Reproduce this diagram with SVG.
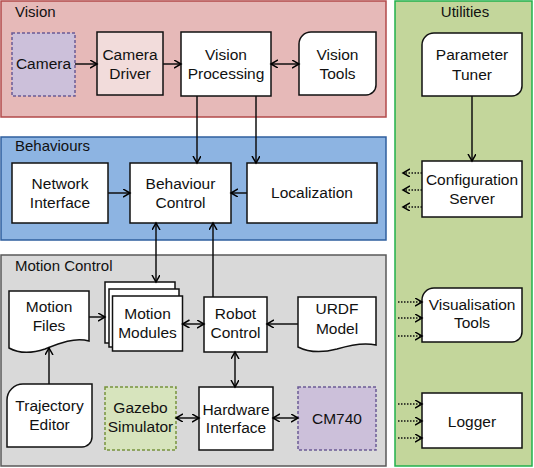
<svg xmlns="http://www.w3.org/2000/svg" width="534" height="468" viewBox="0 0 534 468">
<defs>
<marker id="ah" markerUnits="userSpaceOnUse" markerWidth="10" markerHeight="10" refX="7" refY="4" orient="auto-start-reverse" viewBox="0 0 10 10">
<path d="M0,0 L7,4 L0,8" fill="none" stroke="#000" stroke-width="1.5"/>
</marker>
<style>
text{font-family:"Liberation Sans",Arial,sans-serif;font-size:15.5px;fill:#111;text-anchor:middle}
.title{text-anchor:start;font-size:15px}
.box{fill:#fff;stroke:#111;stroke-width:1.5}
.c{fill:none;stroke:#111;stroke-width:1.5}
.a{marker-end:url(#ah)}
.b{marker-start:url(#ah);marker-end:url(#ah)}
.d{stroke-dasharray:1.5 1.5}
</style>
</defs>
<g id="panels">
<rect x="1" y="1" width="385" height="116" fill="#e6b9b8" stroke="#b24a4a" stroke-width="1.5"/>
<text class="title" x="15" y="17">Vision</text>
<rect x="1" y="137" width="385" height="103" fill="#8db4e2" stroke="#2f5f9e" stroke-width="1.5"/>
<text class="title" x="15" y="151">Behaviours</text>
<rect x="1" y="255" width="385" height="211" fill="#d9d9d9" stroke="#595959" stroke-width="1.5"/>
<text class="title" x="15" y="271">Motion Control</text>
<rect x="395" y="1" width="137" height="465" fill="#c3d69b" stroke="#22b14c" stroke-width="1.5"/>
<text x="465" y="17" style="font-size:15px">Utilities</text>
</g>
<g id="camera"><rect x="12" y="33" width="63" height="63" fill="#ccc0da" stroke="#6b5b95" stroke-width="1.5" stroke-dasharray="3 2"/><text x="43.5" y="69">Camera</text></g>
<g id="camera-driver"><rect x="97" y="32" width="66" height="63" fill="#f2dcdb" stroke="#111" stroke-width="1.5"/><text x="130" y="60">Camera</text><text x="130" y="79">Driver</text></g>
<g id="vision-processing"><rect class="box" x="181" y="32" width="90" height="64"/><text x="226" y="60">Vision</text><text x="226" y="79">Processing</text></g>
<g id="vision-tools"><path class="box" d="M311,32 H376 V85 A10,10 0 0 1 366,95 H299 V44 A12,12 0 0 1 311,32 Z"/><text x="337.5" y="60">Vision</text><text x="337.5" y="79">Tools</text></g>
<g id="network-interface"><rect class="box" x="12" y="163" width="96" height="60"/><text x="60" y="189">Network</text><text x="60" y="208">Interface</text></g>
<g id="behaviour-control"><rect class="box" x="130" y="163" width="101" height="60"/><text x="180.5" y="189">Behaviour</text><text x="180.5" y="208">Control</text></g>
<g id="localization"><rect class="box" x="247" y="163" width="130" height="60"/><text x="312" y="198">Localization</text></g>
<g id="motion-files"><path class="box" d="M9,291 H89 V341 C75,337 60,343 45,349 C30,354 18,353 9,348 Z"/><text x="49" y="312">Motion</text><text x="49" y="331">Files</text></g>
<g id="motion-modules"><rect class="box" x="105" y="282" width="70" height="61"/><rect class="box" x="109" y="289" width="70" height="58"/><rect class="box" x="112.5" y="296" width="70" height="55"/><text x="147.5" y="319">Motion</text><text x="147.5" y="338">Modules</text></g>
<g id="robot-control"><rect class="box" x="204" y="297" width="63" height="55"/><text x="235.5" y="319">Robot</text><text x="235.5" y="338">Control</text></g>
<g id="urdf-model"><path class="box" d="M298,297 H376 V345 C363,342 350,345 337,349 C322,353 308,352 298,347 Z"/><text x="337" y="314">URDF</text><text x="337" y="334">Model</text></g>
<g id="trajectory-editor"><path class="box" d="M23,384 H92 V437 A10,10 0 0 1 82,447 H7 V400 A16,16 0 0 1 23,384 Z"/><text x="49.5" y="411">Trajectory</text><text x="49.5" y="430">Editor</text></g>
<g id="gazebo-simulator"><rect x="105" y="387" width="71" height="63" fill="#d7e4bd" stroke="#77933c" stroke-width="1.5" stroke-dasharray="3 2"/><text x="140.5" y="413">Gazebo</text><text x="140.5" y="432">Simulator</text></g>
<g id="hardware-interface"><rect class="box" x="199" y="387" width="74" height="63"/><text x="236" y="415">Hardware</text><text x="236" y="433">Interface</text></g>
<g id="cm740"><rect x="298" y="387" width="78" height="63" fill="#ccc0da" stroke="#6b5b95" stroke-width="1.5" stroke-dasharray="3 2"/><text x="337" y="424">CM740</text></g>
<g id="parameter-tuner"><path class="box" d="M434,33 H522 V86 A10,10 0 0 1 512,96 H422 V45 A12,12 0 0 1 434,33 Z"/><text x="472" y="60">Parameter</text><text x="472" y="80">Tuner</text></g>
<g id="configuration-server"><rect class="box" x="422" y="161" width="100" height="56"/><text x="472" y="185">Configuration</text><text x="472" y="204">Server</text></g>
<g id="visualisation-tools"><path class="box" d="M434,288 H522 V332 A10,10 0 0 1 512,342 H422 V300 A12,12 0 0 1 434,288 Z"/><text x="472" y="310">Visualisation</text><text x="472" y="328">Tools</text></g>
<g id="logger"><rect class="box" x="422" y="393" width="100" height="55"/><text x="472" y="427">Logger</text></g>
<g id="connectors">
<line class="c a" x1="75" y1="64" x2="97" y2="64"/>
<line class="c a" x1="163" y1="64" x2="181" y2="64"/>
<line class="c b" x1="271" y1="64" x2="299" y2="64"/>
<line class="c a" x1="197" y1="96" x2="197" y2="163"/>
<line class="c a" x1="256" y1="96" x2="256" y2="163"/>
<line class="c a" x1="108" y1="193" x2="130" y2="193"/>
<line class="c a" x1="247" y1="193" x2="231" y2="193"/>
<line class="c b" x1="156" y1="223" x2="156" y2="282"/>
<line class="c a" x1="213" y1="297" x2="213" y2="223"/>
<line class="c a" x1="89" y1="317" x2="105" y2="317"/>
<line class="c b" x1="182.5" y1="324" x2="204" y2="324"/>
<line class="c a" x1="298" y1="324" x2="267" y2="324"/>
<line class="c b" x1="235" y1="352" x2="235" y2="387"/>
<line class="c a" x1="49" y1="384" x2="49" y2="348"/>
<line class="c b" x1="176" y1="418" x2="199" y2="418"/>
<line class="c b" x1="273" y1="418" x2="298" y2="418"/>
<line class="c a" x1="472" y1="96" x2="472" y2="161"/>
<line class="c a d" x1="422" y1="173" x2="403" y2="173"/>
<line class="c a d" x1="422" y1="190" x2="403" y2="190"/>
<line class="c a d" x1="422" y1="207" x2="403" y2="207"/>
<line class="c a d" x1="398" y1="302" x2="422" y2="302"/>
<line class="c a d" x1="398" y1="318" x2="422" y2="318"/>
<line class="c a d" x1="398" y1="336" x2="422" y2="336"/>
<line class="c a d" x1="398" y1="404" x2="422" y2="404"/>
<line class="c a d" x1="398" y1="421" x2="422" y2="421"/>
<line class="c a d" x1="398" y1="438" x2="422" y2="438"/>
</g>
</svg>
